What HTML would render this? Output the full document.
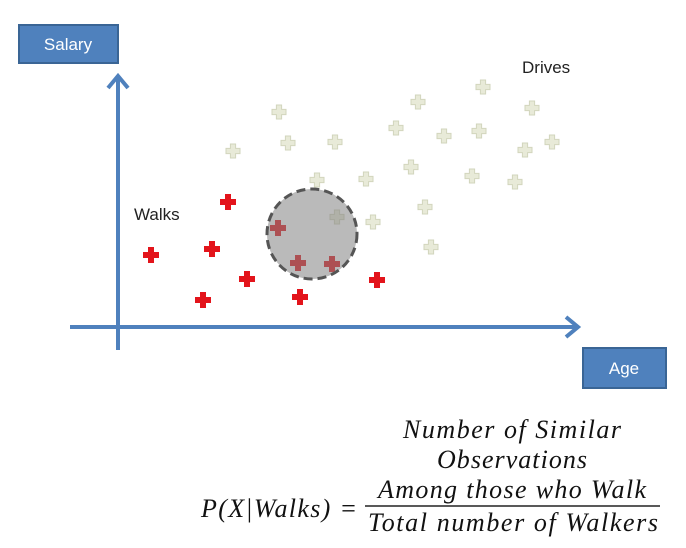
<!DOCTYPE html>
<html><head><meta charset="utf-8"><style>
html,body{margin:0;padding:0;background:#fff;}
svg{display:block;}
</style></head><body>
<svg id="chart" width="686" height="548" viewBox="0 0 686 548" xmlns="http://www.w3.org/2000/svg">
<g id="axes">
<line x1="118" y1="350" x2="118" y2="76" stroke="#4f81bd" stroke-width="4"/>
<polyline points="108,88 118,76 128,88" fill="none" stroke="#4f81bd" stroke-width="4"/>
<line x1="70" y1="327" x2="578" y2="327" stroke="#4f81bd" stroke-width="4"/>
<polyline points="566,317 578,327 566,337" fill="none" stroke="#4f81bd" stroke-width="4"/>
</g>
<g>
<rect x="19" y="25" width="99" height="38" fill="#4f81bd" stroke="#3a6595" stroke-width="2"/>
<text x="68" y="50" text-anchor="middle" font-family="Liberation Sans, sans-serif" font-size="17" fill="#fff">Salary</text>
</g>
<g>
<rect x="583" y="348" width="83" height="40" fill="#4f81bd" stroke="#3a6595" stroke-width="2"/>
<text x="624" y="374" text-anchor="middle" font-family="Liberation Sans, sans-serif" font-size="17" fill="#fff">Age</text>
</g>
<text x="134" y="220" font-family="Liberation Sans, sans-serif" font-size="17" fill="#222">Walks</text>
<text x="522" y="73" font-family="Liberation Sans, sans-serif" font-size="17" fill="#222">Drives</text>
<g id="points"></g>
<g id="overlay"></g>
<g font-family="Liberation Serif, serif" font-style="italic" font-size="26" fill="#111">
<text x="201" y="517" textLength="156" lengthAdjust="spacing">P(X|Walks) =</text>
<text x="512" y="438" text-anchor="middle" textLength="218" lengthAdjust="spacing">Number of Similar</text>
<text x="512" y="468" text-anchor="middle" textLength="150" lengthAdjust="spacing">Observations</text>
<text x="512" y="498" text-anchor="middle" textLength="268" lengthAdjust="spacing">Among those who Walk</text>
<line x1="365" y1="506" x2="660" y2="506" stroke="#222" stroke-width="1.5"/>
<text x="513" y="531" text-anchor="middle" textLength="290" lengthAdjust="spacing">Total number of Walkers</text>
</g>
</svg>
<script>
const walkAge = [22, 6.6, 18.8, 25.8, 17, 32, 36, 42.8, 36.4, 51.8];
const walkSalary = [25, 14.4, 15.6, 9.6, 5.4, 19.8, 12.8, 12.6, 6, 9.4];
const driveAge = [73, 60, 32.2, 82.8, 55.6, 65.2, 72.2, 86.8, 81.4, 34, 43.4, 23, 58.6, 70.8, 79.4, 39.8, 49.6, 61.4, 51, 62.6, 43.8];
const driveSalary = [48, 45, 43, 43.8, 39.8, 38.2, 39.2, 37, 35.4, 36.8, 37, 35.2, 32, 30.2, 29, 29.4, 29.6, 24, 21, 16, 22];
const newPointAge = [38.8];
const newPointSalary = [18.6];
const neighborRadius = [9];

const NS = 'http://www.w3.org/2000/svg';
function xScale(v){ return 118 + v*5; }
function yScale(v){ return 327 - v*5; }
function plus(g, cx, cy, fill, stroke, name, s, w){
  const p = document.createElementNS(NS, 'path');
  const d = `M${cx-w},${cy-s}H${cx+w}V${cy-w}H${cx+s}V${cy+w}H${cx+w}V${cy+s}H${cx-w}V${cy+w}H${cx-s}V${cy-w}H${cx-w}Z`;
  p.setAttribute('d', d);
  p.setAttribute('fill', fill);
  if (stroke) { p.setAttribute('stroke', stroke); p.setAttribute('stroke-width', '1'); }
  
  
  g.appendChild(p);
}
const pts = document.getElementById('points');
for (let i = 0; i < driveAge.length; i++) {
  plus(pts, xScale(driveAge[i]), yScale(driveSalary[i]), '#e8ead8', '#d2d5bd', 'drive-point', 7, 2.6);
}
for (let i = 0; i < walkAge.length; i++) {
  plus(pts, xScale(walkAge[i]), yScale(walkSalary[i]), '#e3141b', null, 'walk-point', 8, 3);
}
const ov = document.getElementById('overlay');
const c = document.createElementNS(NS, 'circle');
c.setAttribute('cx', xScale(newPointAge[0]));
c.setAttribute('cy', yScale(newPointSalary[0]));
c.setAttribute('r', neighborRadius[0]*5);
c.setAttribute('fill', 'rgba(130,130,130,0.55)');
c.setAttribute('stroke', '#555');
c.setAttribute('stroke-width', '3');
c.setAttribute('stroke-dasharray', '9 5');


ov.appendChild(c);
</script>
</body></html>
